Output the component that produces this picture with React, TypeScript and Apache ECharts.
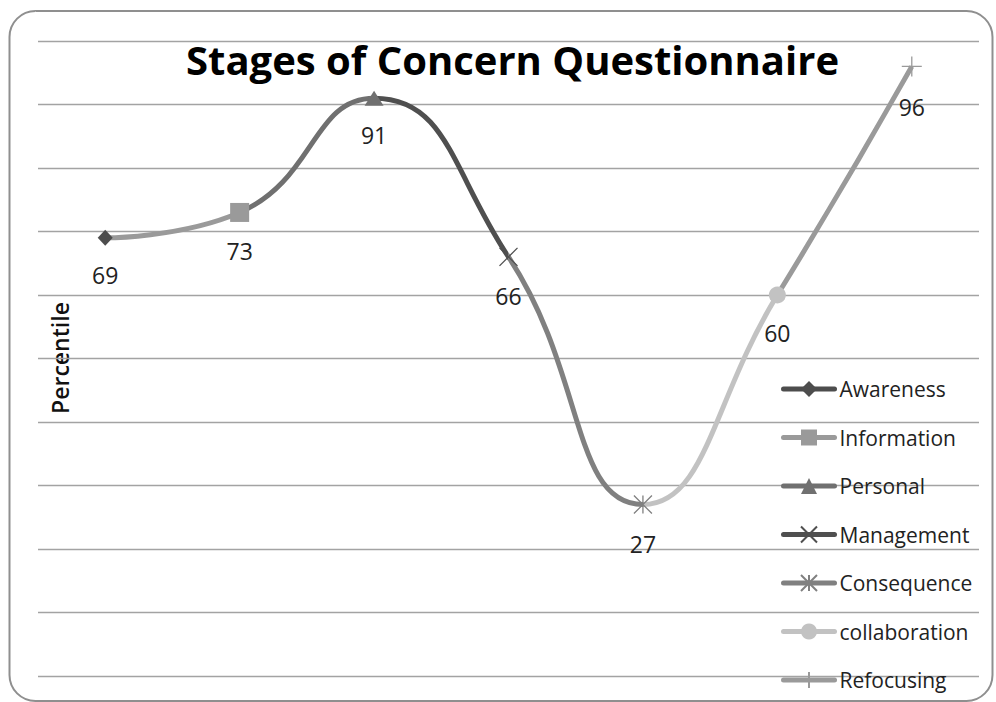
import React, { useEffect, useRef } from "react";
import * as echarts from "echarts";

const stages = ["Awareness", "Information", "Personal", "Management", "Consequence", "collaboration", "Refocusing"];
const percentiles = [69, 73, 91, 66, 27, 60, 96];
const stageColors = ["#4d4d4d", "#9a9a9a", "#707070", "#4f4f4f", "#808080", "#c2c2c2", "#9a9a9a"];
const stageSymbols = [
  "diamond",
  "rect",
  "triangle",
  "path://M0 0L20 20M20 0L0 20",
  "path://M0 0L20 20M20 0L0 20M10 0L10 20",
  "circle",
  "path://M10 0L10 20M0 10L20 10",
];
const stageSymbolSizes: any[] = [[15, 16], 19, [19, 15], 18, 18, 17, 20];
const yTicks = { min: 0, max: 100, interval: 10 };

const FONT = "'Open Sans', 'DejaVu Sans', sans-serif";

export default function App() {
  const ref = useRef<HTMLDivElement>(null);
  useEffect(() => {
    if (!ref.current) return;
    const chart = echarts.init(ref.current, null, { renderer: "svg" });

    const markerSeries = stages.map((name, i) => {
      const isPath = stageSymbols[i].startsWith("path://");
      return {
        name,
        type: "line",
        data: percentiles.map((v, j) => (j === i ? v : null)),
        symbol: stageSymbols[i],
        symbolSize: stageSymbolSizes[i],
        showSymbol: true,
        connectNulls: false,
        z: 5,
        itemStyle: {
          color: isPath ? "rgba(0,0,0,0)" : stageColors[i],
          borderColor: stageColors[i],
          borderWidth: isPath ? 1.3 : 0,
        },
        lineStyle: { color: stageColors[i], width: 5, cap: "round" },
        label: {
          show: true,
          position: "bottom",
          distance: 18,
          fontSize: 23,
          color: "#222",
          fontFamily: FONT,
        },
        emphasis: { disabled: true },
      };
    });

    chart.setOption({
      animation: false,
      backgroundColor: "#ffffff",
      title: {
        text: "Stages of Concern Questionnaire",
        left: 181,
        top: 34,
        textStyle: { fontFamily: FONT, fontWeight: "bold", fontSize: 40, color: "#000" },
      },
      grid: { left: 38, right: 17, top: 41, bottom: 26 },
      legend: {
        orient: "vertical",
        left: 776,
        top: 373,
        itemWidth: 51,
        itemHeight: 20,
        itemGap: 26.5,
        data: stages,
        lineStyle: { width: 5, cap: "round" },
        textStyle: { fontFamily: FONT, fontSize: 21, lineHeight: 22, color: "#222" },
      },
      visualMap: {
        show: false,
        type: "piecewise",
        dimension: 0,
        seriesIndex: 0,
        pieces: [
          { lte: 1, color: stageColors[1] },
          { gt: 1, lte: 2, color: stageColors[2] },
          { gt: 2, lte: 3, color: stageColors[3] },
          { gt: 3, lte: 4, color: stageColors[4] },
          { gt: 4, lte: 5, color: stageColors[5] },
          { gt: 5, color: stageColors[6] },
        ],
      },
      xAxis: {
        type: "category",
        data: stages,
        boundaryGap: true,
        axisLine: { show: false },
        axisTick: { show: false },
        axisLabel: { show: false },
      },
      yAxis: {
        type: "value",
        min: yTicks.min,
        max: yTicks.max,
        interval: yTicks.interval,
        axisLine: { show: false },
        axisTick: { show: false },
        axisLabel: { show: false },
        splitLine: { lineStyle: { color: "#a3a3a3", width: 1.3 } },
      },
      graphic: [
        {
          type: "rect",
          shape: { x: 9.5, y: 11, width: 983, height: 690, r: 26 },
          style: { fill: "none", stroke: "#8f8f8f", lineWidth: 2 },
          silent: true,
        },
        {
          type: "text",
          x: 60,
          y: 358,
          rotation: Math.PI / 2,
          style: {
            text: "Percentile",
            fontFamily: FONT,
            fontSize: 23,
            fontWeight: 600,
            fill: "#111",
            textAlign: "center",
            textVerticalAlign: "middle",
          },
          silent: true,
        },
      ],
      series: [
        {
          name: "curve",
          type: "line",
          data: percentiles,
          smooth: 0.5,
          showSymbol: false,
          z: 2,
          lineStyle: { width: 5 },
          emphasis: { disabled: true },
        },
        ...markerSeries,
      ],
    });
    return () => chart.dispose();
  }, []);
  return <div ref={ref} style={{ position: "fixed", left: 0, top: 0, width: 996, height: 702 }} />;
}
